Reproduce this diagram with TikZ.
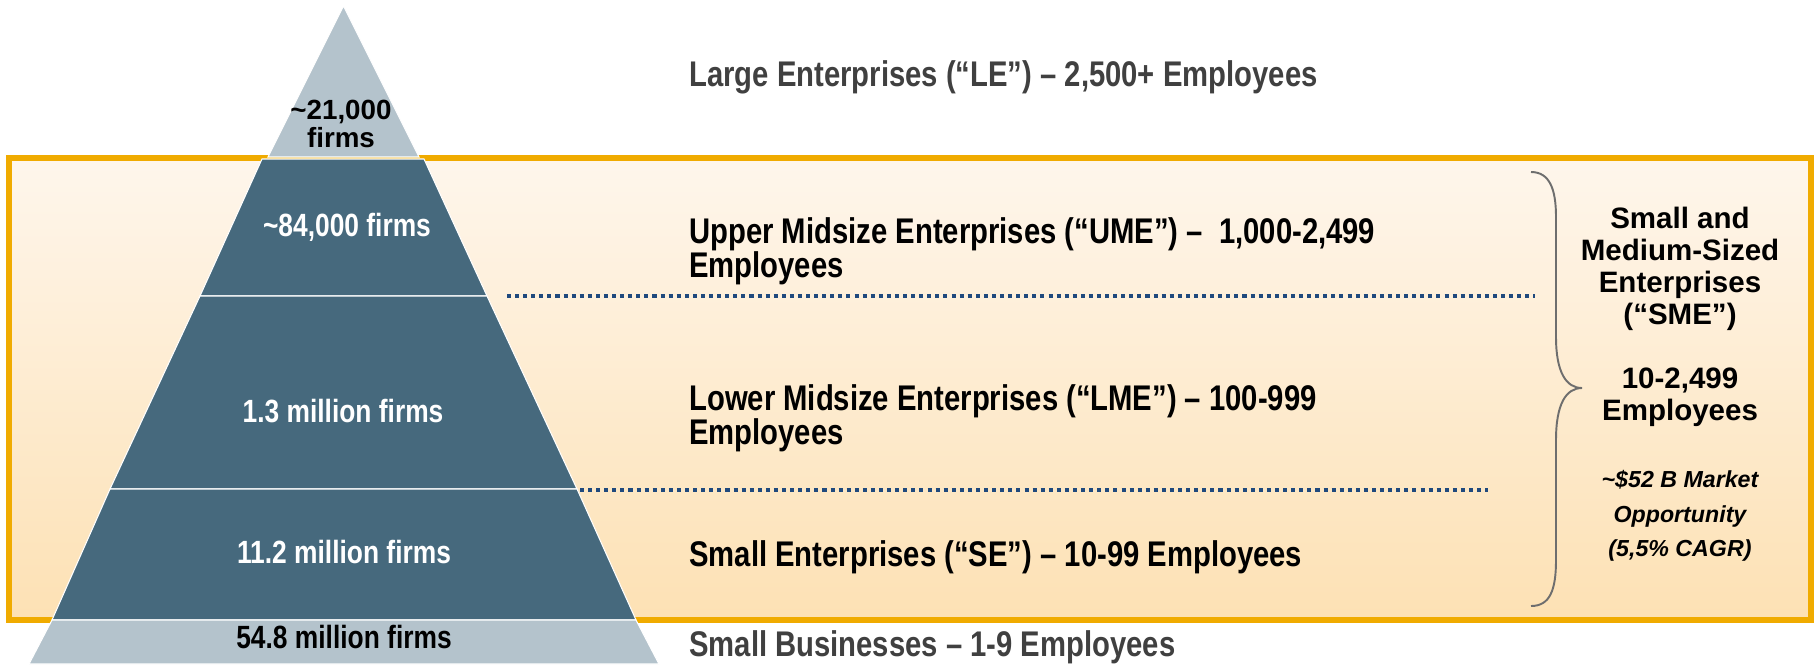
\documentclass[tikz,border=0pt]{standalone}
\usepackage{fontspec}
\setmainfont{Liberation Sans}
\newfontfamily\narrowsf[FakeStretch=0.82]{Liberation Sans}
\setlength{\lineskiplimit}{-10pt}

\definecolor{tierdark}{RGB}{70,105,125}
\definecolor{tierlight}{RGB}{180,195,204}
\definecolor{smeorange}{RGB}{240,171,0}
\definecolor{boxtop}{RGB}{254,246,236}
\definecolor{boxbottom}{RGB}{253,225,180}
\definecolor{sepblue}{RGB}{31,73,125}
\definecolor{bracegray}{RGB}{110,110,110}
\definecolor{labelgray}{RGB}{64,64,64}

\begin{document}
\begin{tikzpicture}[x=0.02cm, y=-0.02cm,
        tier/.style={draw=white, line width=0.6pt},
        tiertext/.style={font=\narrowsf\bfseries\fontsize{18.3}{20}\selectfont, inner sep=0pt},
        tierlabel/.style={font=\narrowsf\bfseries\fontsize{20.3}{19.4}\selectfont,
            anchor=west, align=left, inner sep=0pt},
        divider/.style={sepblue, line width=1.9pt, dash pattern=on 2.3pt off 2.3pt},
        smetext/.style={font=\bfseries\fontsize{16.8}{18.3}\selectfont, align=center, inner sep=0pt}]
        \useasboundingbox (0,0) rectangle (1816,664);

        \draw[smeorange, line width=3.4pt, top color=boxtop, bottom color=boxbottom]
            (9,158) rectangle (1811,620);

        \coordinate (apex) at (343.5,6);
        \filldraw[tier, fill=tierlight] (apex) -- (419,157) -- (268,157) -- cycle;
        \filldraw[tier, fill=tierdark]  (262,159) -- (424,159) -- (487,296) -- (200,296) -- cycle;
        \filldraw[tier, fill=tierdark]  (200,296) -- (487,296) -- (577,489) -- (110,489) -- cycle;
        \filldraw[tier, fill=tierdark]  (110,489) -- (577,489) -- (636,620) -- (52,620)  -- cycle;
        \filldraw[tier, fill=tierlight] (52,620)  -- (636,620) -- (659,664) -- (29,664)  -- cycle;

        \node[tiertext, align=center, font=\bfseries\fontsize{15.8}{15.7}\selectfont]
            (le-count) at (341,124) {\textasciitilde21,000\\firms};
        \node[tiertext, white] (ume-count) at (347,227) {\textasciitilde84,000 firms};
        \node[tiertext, white] (lme-count) at (343,411) {1.3 million firms};
        \node[tiertext, white] (se-count)  at (344,552) {11.2 million firms};
        \node[tiertext] (sb-count) at (344,637) {54.8 million firms};

        \node[tierlabel, labelgray] (le) at (689,77) {Large Enterprises (“LE”) – 2,500+ Employees};
        \node[tierlabel] (ume) at (689,251) {Upper Midsize Enterprises (“UME”) – \ 1,000-2,499\\Employees};
        \node[tierlabel] (lme) at (689,418) {Lower Midsize Enterprises (“LME”) – 100-999\\Employees};
        \node[tierlabel] (se)  at (689,557) {Small Enterprises (“SE”) – 10-99 Employees};
        \node[tierlabel, labelgray] (sb) at (689,647) {Small Businesses – 1-9 Employees};

        \coordinate (ume-l) at (507,296);
        \coordinate (ume-r) at (1535,296);
        \coordinate (lme-l) at (580,490);
        \coordinate (lme-r) at (1488,490);
        \draw[divider] (ume-l) -- (ume-r);
        \draw[divider] (lme-l) -- (lme-r);

        \coordinate (brace-top) at (1531,172);
        \coordinate (brace-tip) at (1582,388);
        \coordinate (brace-bot) at (1531,606);
        \draw[bracegray, line width=1.1pt]
            (brace-top) .. controls (1550,172) and (1556,190) .. (1556,217)
            -- (1556,337) .. controls (1556,372) and (1566,388) .. (brace-tip)
            .. controls (1566,388) and (1556,404) .. (1556,440)
            -- (1556,560) .. controls (1556,590) and (1550,606) .. (brace-bot);

        \node[smetext] (sme) at (1680,269) {Small and\\Medium-Sized\\Enterprises\\(“SME”)};
        \node[smetext] (sme-size) at (1680,397) {10-2,499\\Employees};
        \node[smetext, font=\bfseries\itshape\fontsize{13.2}{19.5}\selectfont] (sme-market)
            at (1680,516) {\textasciitilde\$52 B Market\\Opportunity\\(5,5\% CAGR)};
    \end{tikzpicture}
\end{document}
